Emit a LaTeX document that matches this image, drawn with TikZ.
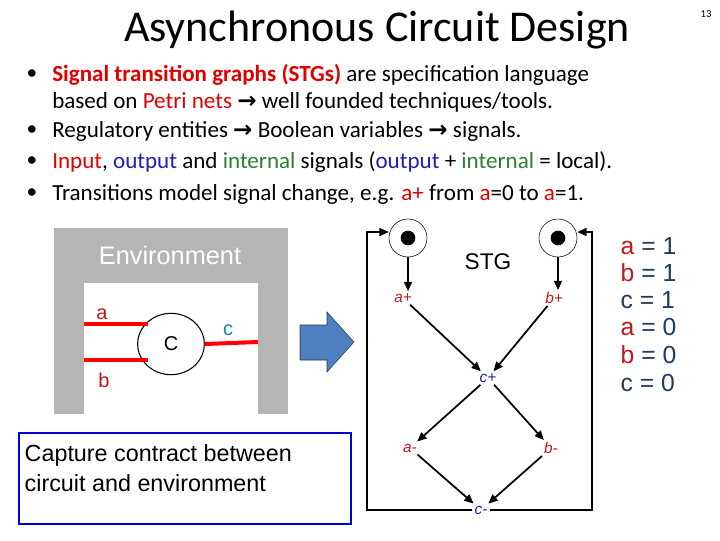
\documentclass[tikz,border=0pt]{standalone}
\usepackage{fontspec}
\setmainfont{Carlito}
\newfontfamily\arial{Liberation Sans}
\newfontfamily\dejavu{DejaVu Sans}
\usetikzlibrary{arrows.meta,shapes.geometric}
\definecolor{sred}{HTML}{E00000}
\definecolor{dred}{HTML}{C0161E}
\definecolor{sblue}{HTML}{1F1FB0}
\definecolor{sgreen}{HTML}{2E7D32}
\definecolor{navy}{HTML}{1F3A5A}
\definecolor{arrblue}{HTML}{4F7FC0}
\newcommand{\rarr}{{\dejavu\bfseries →}}
\begin{document}
\begin{tikzpicture}[x=0.75pt,y=-0.75pt,
  bul/.style={anchor=west,font=\fontsize{17.3}{20}\selectfont,align=left,inner sep=0},
  place/.style={circle,draw,thin,minimum size=28.5pt,inner sep=0},
  tr/.style={font=\arial\itshape\fontsize{11.5}{13}\selectfont,inner sep=1.5pt},
  arc/.style={-{Triangle[length=7pt,width=6pt]},line width=1.3pt},
  val/.style={anchor=west,font=\arial\fontsize{18.5}{20}\selectfont,text=navy}]
\useasboundingbox (0,0) rectangle (720,540);
\node (pg) at (706,14) {\fontsize{8}{9}\selectfont 13};
\node (title) at (377,30) {\fontsize{33}{36}\selectfont Asynchronous Circuit Design};
\foreach \y in {75,131,162,194} \node at (32,\y) {\fontsize{16}{19}\selectfont •};
\node[bul] (b1) at (52,88) {{\bfseries\color{sred}Signal transition graphs (STGs)} are specification language\\based on {\color{sred}Petri nets} \rarr{} well founded techniques/tools.};
\node[bul] (b2) at (52,131) {Regulatory entities \rarr{} Boolean variables \rarr{} signals.};
\node[bul] (b3) at (52,162) {{\color{sred}Input}, {\color{sblue}output} and {\color{sgreen}internal} signals ({\color{sblue}output} + {\color{sgreen}internal} = local).};
\node[bul] (b4) at (52,194) {Transitions model signal change, e.g. {\color{sred}a+} from {\color{sred}a}=0 to {\color{sred}a}=1.};
% environment
\fill[gray!95!black!55] (54,228) rectangle (288,414);
\fill[white] (84,283) rectangle (258,414);
\node[text=white,font=\arial\fontsize{19}{20}\selectfont] (env) at (170,255) {Environment};
\node[draw,ellipse,line width=0.8pt,minimum width=50pt,minimum height=46pt,inner sep=0,font=\arial\fontsize{15}{16}\selectfont] (C) at (171,344) {C};
\coordinate (ai) at (84,324); \coordinate (bi) at (84,360); \coordinate (co) at (258,342);
\coordinate (ae) at (148,324); \coordinate (be) at (148,360);
\draw[red,line width=3pt] (ai) -- (ae);
\draw[red,line width=3pt] (bi) -- (be);
\draw[red,line width=3pt] (C.east) -- (co);
\node[text=dred,font=\arial\fontsize{15}{16}\selectfont] at (102,314) {a};
\node[text=dred,font=\arial\fontsize{15}{16}\selectfont] at (104,380) {b};
\node[text=navy!60!cyan,font=\arial\fontsize{15}{16}\selectfont] at (228,330) {c};
\draw[fill=arrblue,draw=navy] (300,325) -- (327,325) -- (327,312) -- (354,342) -- (327,372) -- (327,360) -- (300,360) -- cycle;
\node[draw=blue!85!black,line width=1.5pt,minimum width=249pt,minimum height=68pt,anchor=north west,inner sep=0] (cap) at (18,432) {};
\node[anchor=west,font=\arial\fontsize{17.5}{23}\selectfont,align=left] (capt) at (20,468) {Capture contract between\\circuit and environment};
% STG
\node[place] (pa) at (408,238) {}; \fill (pa) circle (5.5pt);
\node[place] (pb) at (558,238) {}; \fill (pb) circle (5.5pt);
\node[font=\arial\fontsize{17}{18}\selectfont] (stg) at (488,262) {STG};
\node[tr,text=dred] (ap) at (403,298) {a+};
\node[tr,text=dred] (bp) at (554,298) {b+};
\node[tr,text=sblue] (cp) at (488,378) {c+};
\node[tr,text=dred] (am) at (410,448) {a-};
\node[tr,text=dred] (bm) at (551,448) {b-};
\node[tr,text=sblue] (cm) at (481,510) {c-};
\draw[arc] (pa) -- (ap.north -| pa);
\draw[arc] (pb) -- (bp.north -| pb);
\draw[arc] (ap) -- (cp);
\draw[arc] (bp) -- (cp);
\draw[arc] (cp) -- (am);
\draw[arc] (cp) -- (bm);
\draw[arc] (am) -- (cm);
\draw[arc] (bm) -- (cm);
\coordinate (l1) at (367,510); \coordinate (l2) at (367,232);
\coordinate (r1) at (592,510); \coordinate (r2) at (592,232);
\draw[arc] (cm.west) -- (l1) -- (l2) -- (pa.west|-l2);
\draw[arc] (cm.east) -- (r1) -- (r2) -- (pb.east|-r2);
% values
\node[val] at (616,246) {{\color{dred}a} = 1};
\node[val] at (616,273) {{\color{dred}b} = 1};
\node[val] at (616,300) {c = 1};
\node[val] at (616,327) {{\color{dred}a} = 0};
\node[val] at (616,355) {{\color{dred}b} = 0};
\node[val] at (616,383) {c = 0};
\end{tikzpicture}
\end{document}
